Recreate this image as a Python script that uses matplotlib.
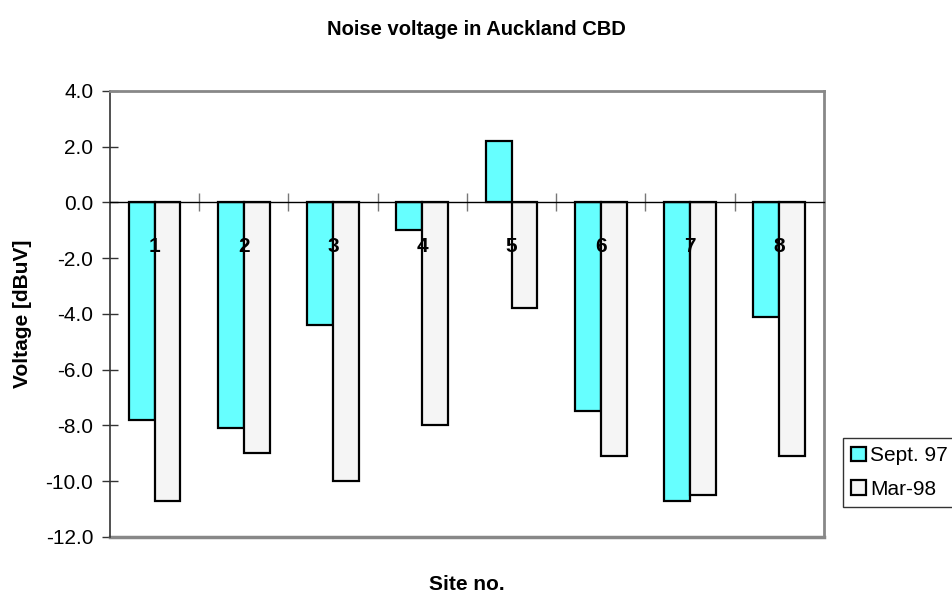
import numpy as np
import matplotlib.pyplot as plt
from matplotlib.patches import Patch

plt.rcParams['font.family'] = ['Liberation Sans', 'DejaVu Sans']

sites = ['1', '2', '3', '4', '5', '6', '7', '8']
sept97 = [-7.8, -8.1, -4.4, -1.0, 2.2, -7.5, -10.7, -4.1]
mar98 = [-10.7, -9.0, -10.0, -8.0, -3.8, -9.1, -10.5, -9.1]
yticks = np.arange(-12, 4.1, 2)

x = np.arange(len(sites))
w = 0.29

fig = plt.figure(figsize=(9.52, 5.92), dpi=100)
ax = fig.add_axes([0.1155, 0.093, 0.75, 0.7535])

ax.bar(x - w / 2, sept97, w, color='#66FFFF', edgecolor='black', linewidth=1.6, label='Sept. 97', zorder=3)
ax.bar(x + w / 2, mar98, w, color='#F5F5F5', edgecolor='black', linewidth=1.6, label='Mar-98', zorder=3)

ax.set_xlim(-0.5, len(sites) - 0.5)
ax.set_ylim(-12, 4)
ax.set_yticks(yticks)
ax.set_yticklabels([f'{v:.1f}' for v in yticks], fontsize=15)
ax.tick_params(axis='y', direction='inout', length=12, width=1, color='#333333', pad=6)

# category axis sits on the zero line
ax.spines['bottom'].set_position(('data', 0))
ax.spines['bottom'].set_color('black')
ax.spines['bottom'].set_linewidth(1)
ax.spines['bottom'].set_zorder(4)
ax.set_xticks(np.arange(0.5, len(sites) - 1, 1))
ax.set_xticklabels([])
ax.tick_params(axis='x', which='major', direction='inout', length=13, width=1, color='#777777')
for xi, s in zip(x, sites):
    ax.annotate(s, (xi, 0), xytext=(0, -32), textcoords='offset points',
                ha='center', va='center', fontsize=15, fontweight='bold', zorder=5)

ax.axhline(-12, color='#888888', linewidth=2.5, clip_on=False, zorder=2)
ax.spines['top'].set_color('#888888')
ax.spines['top'].set_linewidth(2)
ax.spines['right'].set_color('#888888')
ax.spines['right'].set_linewidth(2)
ax.spines['left'].set_color('#333333')
ax.spines['left'].set_linewidth(1.2)

ax.set_ylabel('Voltage [dBuV]', fontsize=15, fontweight='bold', labelpad=10)
ax.set_xlabel('Site no.', fontsize=15, fontweight='bold')
ax.xaxis.set_label_coords(0.5, -0.085)
fig.suptitle('Noise voltage in Auckland CBD', y=0.967, fontsize=14.5, fontweight='bold')

handles = [Patch(facecolor='#66FFFF', edgecolor='black', linewidth=1.6, label='Sept. 97'),
           Patch(facecolor='#F5F5F5', edgecolor='black', linewidth=1.6, label='Mar-98')]
leg = fig.legend(handles=handles, loc='upper left', bbox_to_anchor=(0.8855, 0.2601),
                 fontsize=15, frameon=True, fancybox=False, handlelength=0.7, handleheight=0.7,
                 handletextpad=0.2, borderpad=0.4, labelspacing=0.7, borderaxespad=0)
leg.get_frame().set_edgecolor('black')
leg.get_frame().set_linewidth(1)

fig.savefig('out.png', dpi=100)
